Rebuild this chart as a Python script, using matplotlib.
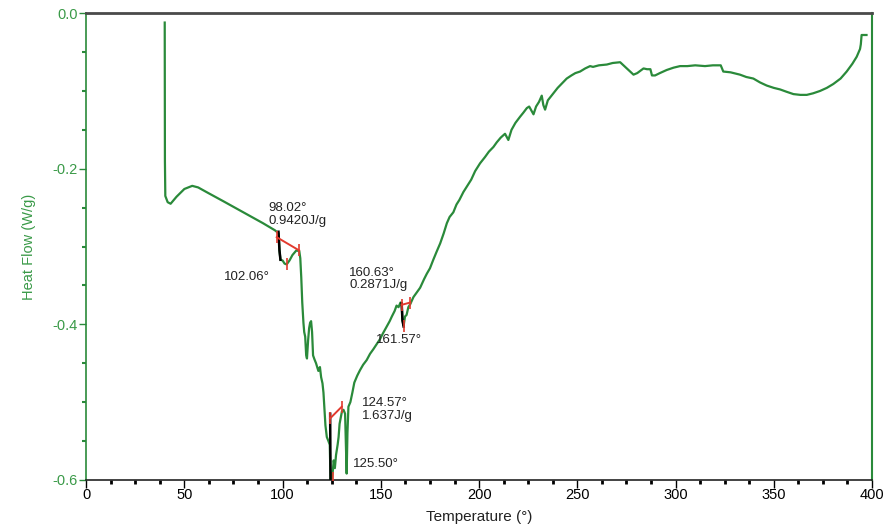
import numpy as np
import matplotlib
matplotlib.use("Agg")
import matplotlib.pyplot as plt
from matplotlib.ticker import MultipleLocator, FormatStrFormatter

plt.rcParams['font.family'] = ['Liberation Sans Narrow', 'Liberation Sans', 'DejaVu Sans']
plt.rcParams['axes.unicode_minus'] = False

GREEN = '#2a8a3a'
LABEL_GREEN = '#3a9a48'
RED = '#e23a2e'

# DSC trace
temp = [40.0, 40.1, 40.3, 41.5, 43, 46, 50, 54, 57, 62, 70, 80, 90, 96, 98.0,
        98.4, 98.9, 100, 101, 102.06, 103.5, 105, 107, 108.5, 109, 109.5, 110,
        110.6, 111, 111.5, 112, 112.4, 113, 113.5, 114, 114.5, 115, 115.5, 116.2,
        117, 117.6, 118.2, 119, 119.6, 120.3, 120.8, 121.3, 121.8, 122.5, 123.3,
        124.0, 124.4, 125.0, 125.5, 126, 126.6, 127.2, 128, 128.5, 129, 129.6,
        130.2, 131, 131.8, 132.3, 132.6, 133.0, 133.5, 134.5, 135.5, 136.5, 138,
        139.4, 141, 142.8, 144.5, 146.2, 148, 149.6, 151, 153, 154.5, 155.6, 157,
        158, 159, 160, 160.6, 161.0, 161.6, 162.3, 163.1, 164, 165, 166.6, 168,
        170, 172, 173.4, 175, 176.7, 178.5, 180.2, 182, 183.6, 185, 186.9, 188.5,
        190, 192, 194, 196, 198, 200.5, 203, 205, 207.3, 209, 211, 213.2, 214.9,
        216.5, 218.5, 220.9, 222.5, 224.3, 225.5, 227.7, 229, 230.5, 231.9, 232.7,
        233.6, 235, 237.8, 240, 242.3, 244.6, 247, 249, 251.4, 254, 256.5, 258,
        261, 265, 268, 271.8, 273.5, 276, 278.6, 280.5, 283.7, 285.5, 287.2, 288,
        289.6, 292, 295.5, 299, 302.3, 306, 310, 315, 319, 323, 324.3, 328, 332.8,
        336, 339.6, 343, 346.4, 350, 353.2, 356.5, 360, 363.5, 366.8, 370, 373.5,
        377, 380.3, 384, 387.1, 390, 392.2, 393.9, 394.3, 394.7, 397.2]
heat_flow = [-0.012, -0.190, -0.235, -0.243, -0.245, -0.236, -0.226, -0.222, -0.224,
             -0.231, -0.242, -0.256, -0.270, -0.279, -0.283, -0.305, -0.317, -0.318,
             -0.322, -0.323, -0.318, -0.311, -0.305, -0.306, -0.315, -0.340, -0.372,
             -0.398, -0.410, -0.416, -0.440, -0.444, -0.420, -0.405, -0.398, -0.396,
             -0.410, -0.440, -0.445, -0.450, -0.455, -0.460, -0.455, -0.468, -0.476,
             -0.488, -0.510, -0.530, -0.545, -0.550, -0.555, -0.600, -0.598, -0.590,
             -0.575, -0.585, -0.568, -0.555, -0.545, -0.528, -0.520, -0.512, -0.510,
             -0.515, -0.560, -0.592, -0.540, -0.506, -0.500, -0.488, -0.475, -0.466,
             -0.459, -0.452, -0.446, -0.438, -0.432, -0.425, -0.419, -0.412, -0.403,
             -0.396, -0.390, -0.383, -0.376, -0.378, -0.372, -0.374, -0.395, -0.402,
             -0.390, -0.388, -0.378, -0.374, -0.365, -0.360, -0.353, -0.342, -0.335,
             -0.328, -0.317, -0.306, -0.296, -0.283, -0.270, -0.262, -0.256, -0.246,
             -0.240, -0.230, -0.222, -0.214, -0.203, -0.193, -0.185, -0.178, -0.172,
             -0.166, -0.160, -0.155, -0.163, -0.150, -0.141, -0.133, -0.128, -0.122,
             -0.120, -0.130, -0.120, -0.114, -0.106, -0.118, -0.124, -0.112, -0.103,
             -0.096, -0.090, -0.084, -0.080, -0.077, -0.075, -0.071, -0.068, -0.069,
             -0.067, -0.066, -0.064, -0.063, -0.067, -0.073, -0.079, -0.077, -0.071,
             -0.072, -0.072, -0.080, -0.080, -0.077, -0.073, -0.070, -0.068, -0.068,
             -0.067, -0.068, -0.067, -0.067, -0.075, -0.076, -0.079, -0.082, -0.084,
             -0.089, -0.093, -0.096, -0.098, -0.101, -0.104, -0.105, -0.105, -0.103,
             -0.100, -0.096, -0.091, -0.084, -0.075, -0.065, -0.056, -0.046, -0.040,
             -0.028, -0.028]

# peak integrations: onset segment (black), baseline (red), labels
onset_t = [[97.9, 98.4, 98.9], [124.2, 124.4], [160.6, 161.0, 161.6]]
onset_v = [[-0.281, -0.305, -0.317], [-0.515, -0.600], [-0.373, -0.395, -0.403]]
base_t = [[97.0, 108.4], [124.2, 130.1], [160.6, 165.0]]
base_v = [[-0.288, -0.305], [-0.521, -0.506], [-0.375, -0.372]]
peak_t = [102.06, 125.50, 161.57]
peak_v = [-0.323, -0.598, -0.402]
onset_labels = ["98.02°\n0.9420J/g", "124.57°\n1.637J/g", "160.63°\n0.2871J/g"]
onset_label_xy = [(92.6, -0.243), (140.5, -0.494), (133.8, -0.326)]
peak_labels = ["102.06°", "125.50°", "161.57°"]
peak_label_xy = [(93.6, -0.339), (135.9, -0.580), (147.6, -0.420)]

fig = plt.figure(figsize=(8.88, 5.29), dpi=100)
ax = fig.add_axes([0.097, 0.093, 0.885, 0.882])

ax.plot(temp, heat_flow, color=GREEN, lw=1.6, zorder=3)
for t, v in zip(onset_t, onset_v):
    ax.plot(t, v, color='black', lw=1.8, zorder=4)
for t, v in zip(base_t, base_v):
    ax.plot(t, v, color=RED, lw=1.4, zorder=4)
    ax.plot(t, v, ls='none', marker='|', ms=8, mew=1.2, color=RED, zorder=4)
ax.plot(peak_t, peak_v, ls='none', marker='|', ms=9, mew=1.2, color=RED, zorder=5)

for s, (x, y) in zip(onset_labels, onset_label_xy):
    ax.text(x, y, s, fontsize=9.5, va='top', ha='left', color='#222222', linespacing=1.05)
for s, (x, y) in zip(peak_labels, peak_label_xy):
    ax.text(x, y, s, fontsize=9.5, va='center',
            ha='right' if x < 100 else 'left', color='#222222')

ax.set_xlim(0, 400)
ax.set_ylim(-0.6, 0.0)
ax.xaxis.set_major_locator(MultipleLocator(50))
ax.xaxis.set_minor_locator(MultipleLocator(12.5))
ax.yaxis.set_major_locator(MultipleLocator(0.2))
ax.yaxis.set_minor_locator(MultipleLocator(0.05))
ax.yaxis.set_major_formatter(FormatStrFormatter('%.1f'))

ax.tick_params(axis='x', which='major', direction='out', length=6, width=1,
               color='black', labelsize=10.5, pad=0)
ax.tick_params(axis='x', which='minor', direction='out', length=3, width=2, color='black')
ax.tick_params(axis='y', which='major', direction='out', length=5, width=1,
               color=GREEN, labelcolor=LABEL_GREEN, labelsize=10.5, pad=1)
ax.tick_params(axis='y', which='minor', direction='out', length=3, width=1.5, color=GREEN)

ax.spines['left'].set_color(GREEN)
ax.spines['right'].set_color(GREEN)
ax.spines['top'].set_color('#4a4a4a')
ax.spines['bottom'].set_color('#222222')
ax.spines['top'].set_linewidth(2)
ax.spines['right'].set_linewidth(1.5)
ax.spines['left'].set_linewidth(1.2)
ax.spines['bottom'].set_linewidth(1.2)

ax.set_xlabel("Temperature (°)", fontsize=11, color='#222222', labelpad=6)
ax.set_ylabel("Heat Flow (W/g)", fontsize=10.5, color=LABEL_GREEN, labelpad=12)

fig.savefig("out.png", dpi=100)
